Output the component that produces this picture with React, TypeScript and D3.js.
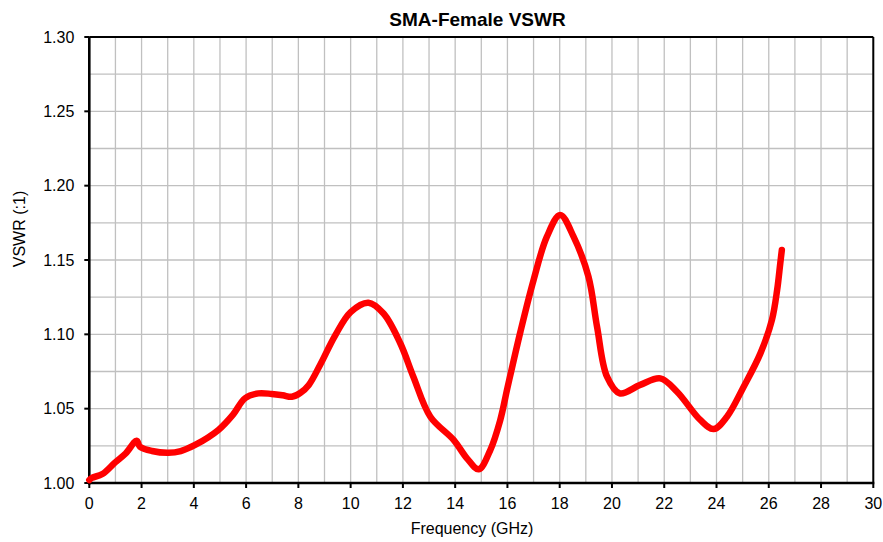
import React from "react";
import * as d3 from "d3";

const freqGHz = [0, 0.09, 0.5, 0.98, 1.4, 1.81, 1.94, 2.4, 3.03, 3.5, 4.05, 4.94, 5.5, 5.96, 6.47, 6.98, 7.4, 7.75, 8.07, 8.4, 8.83, 9.4, 10.0, 10.68, 11.26, 11.9, 12.4, 13.05, 13.94, 14.45, 14.9, 15.34, 15.72, 16.0, 16.5, 17.0, 17.51, 18.02, 18.53, 19.1, 19.43, 19.81, 20.3, 21.08, 21.85, 22.49, 23.38, 23.89, 24.4, 25.04, 25.68, 26.12, 26.32, 26.44, 26.5];
const vswr = [1.002, 1.0034, 1.006, 1.0137, 1.02, 1.0285, 1.0244, 1.0215, 1.0203, 1.0215, 1.0256, 1.0357, 1.046, 1.057, 1.0603, 1.0599, 1.059, 1.058, 1.0605, 1.066, 1.0794, 1.099, 1.115, 1.1213, 1.114, 1.094, 1.0715, 1.0446, 1.029, 1.0166, 1.0092, 1.022, 1.042, 1.064, 1.102, 1.1365, 1.1657, 1.1803, 1.1657, 1.1388, 1.105, 1.0715, 1.0603, 1.066, 1.0704, 1.0614, 1.0424, 1.0363, 1.0446, 1.0648, 1.0872, 1.1096, 1.1298, 1.1478, 1.1567];

const xTicks = [0, 2, 4, 6, 8, 10, 12, 14, 16, 18, 20, 22, 24, 26, 28, 30];
const yTicks = [1.0, 1.05, 1.1, 1.15, 1.2, 1.25, 1.3];
const xGrid = d3.range(0, 31, 1);
const yGrid = d3.range(0, 13).map((i) => 1 + i * 0.025);

const title = "SMA-Female VSWR";
const xLabel = "Frequency (GHz)";
const yLabel = "VSWR (:1)";

export default function App() {
  const W = 883, H = 542;
  const L = 89.3, R = 873.3, T = 37, B = 483;
  const x = d3.scaleLinear().domain([0, 30]).range([L, R]);
  const y = d3.scaleLinear().domain([1.0, 1.3]).range([B, T]);
  const pts = freqGHz.map((f, i) => [f, vswr[i]] as [number, number]);
  const line = d3
    .line<[number, number]>()
    .x((d) => x(d[0]))
    .y((d) => y(d[1]))
    .curve(d3.curveCatmullRom.alpha(0.5));
  const font = "'Liberation Sans', Arial, sans-serif";
  return (
    <svg width={W} height={H} style={{ position: "absolute", left: 0, top: 0, background: "#fff" }} fontFamily={font}>
      <rect x={0} y={0} width={W} height={H} fill="#fff" />
      {xGrid.map((g) => (
        <line key={"gx" + g} x1={x(g)} x2={x(g)} y1={T} y2={B} stroke="#c0c0c0" strokeWidth={1.3} />
      ))}
      {yGrid.map((g, i) => (
        <line key={"gy" + i} x1={L} x2={R} y1={y(g)} y2={y(g)} stroke="#c0c0c0" strokeWidth={1.3} />
      ))}
      <line x1={L} x2={R} y1={T} y2={T} stroke="#000" strokeWidth={2} />
      <line x1={R} x2={R} y1={T} y2={B} stroke="#000" strokeWidth={2} />
      <line x1={L} x2={L} y1={T} y2={B + 1.5} stroke="#000" strokeWidth={2.6} />
      <line x1={L - 1.3} x2={R + 1} y1={B} y2={B} stroke="#000" strokeWidth={2.6} />
      {xTicks.map((t) => (
        <g key={"xt" + t}>
          <line x1={x(t)} x2={x(t)} y1={B} y2={B + 5} stroke="#000" strokeWidth={2} />
          <text x={x(t)} y={509} fontSize={16} textAnchor="middle" fill="#000">
            {t}
          </text>
        </g>
      ))}
      {yTicks.map((t) => (
        <g key={"yt" + t}>
          <line x1={L - 5} x2={L} y1={y(t)} y2={y(t)} stroke="#000" strokeWidth={2} />
          <text x={L - 15} y={y(t) + 5.7} fontSize={16} textAnchor="end" fill="#000">
            {t.toFixed(2)}
          </text>
        </g>
      ))}
      <path d={line(pts) || ""} fill="none" stroke="#ff0000" strokeWidth={6.5} strokeLinecap="round" strokeLinejoin="round" />
      <text x={477.5} y={26} fontSize={19} fontWeight="bold" textAnchor="middle" fill="#000">
        {title}
      </text>
      <text x={472} y={534} fontSize={16} textAnchor="middle" fill="#000">
        {xLabel}
      </text>
      <text transform="translate(25,229) rotate(-90)" fontSize={16} textAnchor="middle" fill="#000">
        {yLabel}
      </text>
    </svg>
  );
}
